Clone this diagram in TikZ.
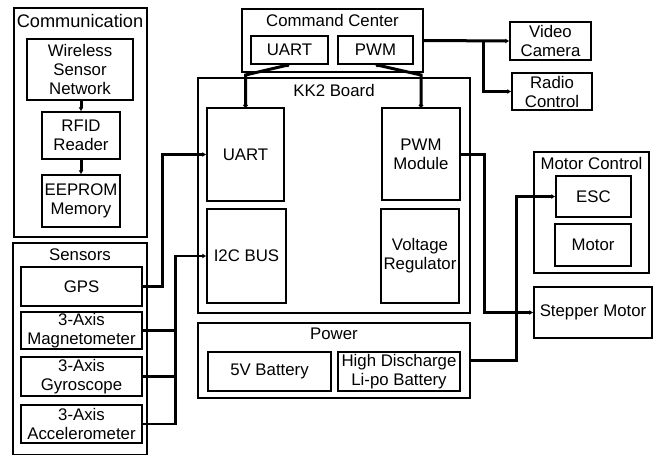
\documentclass[tikz,border=0pt]{standalone}
\usepackage{fontspec}
\setmainfont{Liberation Sans}
\usetikzlibrary{arrows.meta,calc}

\begin{document}
\begin{tikzpicture}[x=1pt, y=-1pt,
  font=\fontsize{16.8}{19}\selectfont,
  box/.style={draw, line width=1.3pt, align=center, inner sep=1pt},
  group/.style={draw, line width=1.3pt, inner sep=0pt},
  title/.style={inner sep=0pt, anchor=center},
  conn/.style={line width=3pt, -{Latex[length=4pt,width=5pt]}},
  bus/.style={line width=2.5pt}]
  \useasboundingbox (0,0) rectangle (657,455);

  % Communication group
  \node[group, minimum width=133pt, minimum height=229pt] (comm) at (80.5,122.5) {};
  \node[title, font=\fontsize{18.2}{20}\selectfont] (commtitle) at (80,21) {Communication};
  \node[box, minimum width=106pt, minimum height=61pt] (wsn) at (80,69.5) {Wireless\\Sensor\\Network};
  \node[box, minimum width=78pt, minimum height=47pt] (rfid) at (81,135.5) {RFID\\Reader};
  \node[box, minimum width=78pt, minimum height=52pt] (eeprom) at (81,201) {EEPROM\\Memory};

  % Sensors group
  \node[group, minimum width=134pt, minimum height=212pt] (sensors) at (80,349) {};
  \node[title] (senstitle) at (80,255) {Sensors};
  \node[box, minimum width=121pt, minimum height=39pt] (gps) at (81.5,286.5) {GPS};
  \node[box, minimum width=121pt, minimum height=37pt] (mag) at (81.5,330.5) {3-Axis\\Magnetometer};
  \node[box, minimum width=121pt, minimum height=39pt] (gyro) at (81.5,376.5) {3-Axis\\Gyroscope};
  \node[box, minimum width=121pt, minimum height=38pt] (acc) at (81.5,424) {3-Axis\\Accelerometer};

  % Command center
  \node[group, minimum width=181pt, minimum height=63pt] (cc) at (332.5,40.5) {};
  \node[title] (cctitle) at (332.5,20) {Command Center};
  \node[box, minimum width=77pt, minimum height=28pt] (ccuart) at (289.5,50) {UART};
  \node[box, minimum width=75pt, minimum height=28pt] (ccpwm) at (375.5,50) {PWM};

  % KK2 board
  \node[group, minimum width=272pt, minimum height=235pt] (kk2) at (334,195.5) {};
  \node[title] (kk2title) at (334,90) {KK2 Board};
  \node[box, minimum width=77pt, minimum height=93pt] (uart) at (245.5,154.5) {UART};
  \node[box, minimum width=78pt, minimum height=92pt] (pwm) at (421,154) {PWM\\Module};
  \node[box, minimum width=79pt, minimum height=94pt] (i2c) at (246.5,256) {I2C BUS};
  \node[box, minimum width=78pt, minimum height=94pt] (vreg) at (420,256) {Voltage\\Regulator};

  % Power
  \node[group, minimum width=272pt, minimum height=75pt] (power) at (334,360.5) {};
  \node[title] (powtitle) at (334,334) {Power};
  \node[box, minimum width=123pt, minimum height=39pt] (bat) at (269.5,371.5) {5V Battery};
  \node[box, minimum width=122pt, minimum height=39pt] (lipo) at (399,371.5) {High Discharge\\Li-po Battery};

  % Motor control
  \node[group, minimum width=115pt, minimum height=121pt] (motorctl) at (591.5,212.5) {};
  \node[title] (mctitle) at (591.5,163) {Motor Control};
  \node[box, minimum width=75pt, minimum height=41pt] (esc) at (593.5,196.5) {ESC};
  \node[box, minimum width=76pt, minimum height=42pt] (motor) at (593,245) {Motor};
  \node[box, minimum width=118pt, minimum height=51pt] (stepper) at (593,312.5) {Stepper Motor};

  % Outputs of the command center
  \node[box, minimum width=81pt, minimum height=38pt] (video) at (550.5,41) {Video\\Camera};
  \node[box, minimum width=80pt, minimum height=37pt] (radio) at (552,91.5) {Radio\\Control};

  % Connections
  \coordinate (split) at (483,40.5);
  \coordinate (uartbend) at (245.5,75);
  \coordinate (pwmbend) at (421,75);

  \draw[conn] (wsn.south -| rfid.north) -- (rfid.north);
  \draw[conn] (rfid.south) -- (eeprom.north);

  \draw[conn] (cc.east) -- (video.west);
  \draw[conn] (split) |- (radio.west);

  \draw[conn, {Circle[length=4pt]}-{Circle[length=4pt]}] (ccuart.south) -- (uartbend) -- (uart.north);
  \draw[conn, {Circle[length=4pt]}-{Circle[length=4pt]}] (ccpwm.south) -- (pwmbend) -- (pwm.north);

  \draw[conn] (gps.east) -- ++(20,0) |- (uart.west);
  \draw[bus] (mag.east) -- ++(33,0);
  \draw[bus] (gyro.east) -- ++(33,0);
  \draw[bus, -{Latex[length=4pt,width=5pt]}] (acc.east) -- ++(33,0) |- (i2c.west);

  \draw[conn] (pwm.east) -- ++(24,0) |- (stepper.west);
  \draw[conn] (power.east) -- ++(46,0) |- (esc.west);
\end{tikzpicture}
\end{document}
